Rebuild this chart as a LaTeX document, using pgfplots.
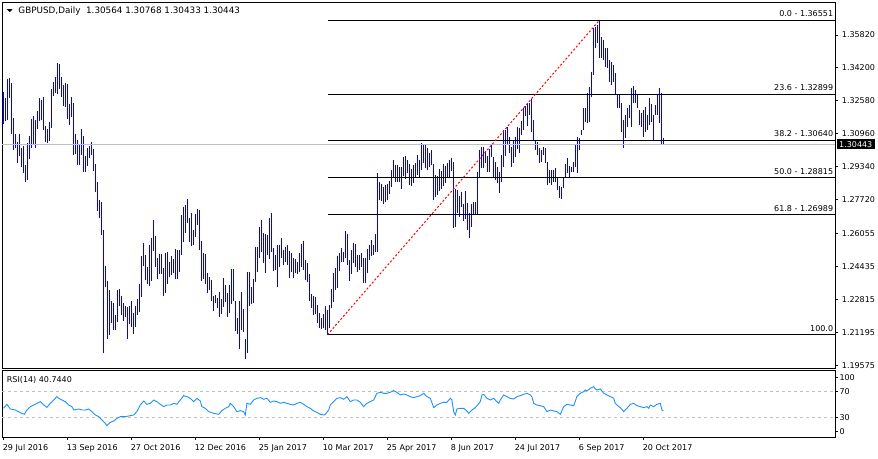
\documentclass[border=0pt]{standalone}
\usepackage{fontspec}
\setmainfont{DejaVu Sans}
\usepackage{pgfplots}
\pgfplotsset{compat=1.18}
\usepackage{pgfplotstable}

\definecolor{barblue}{RGB}{0,0,255}
\definecolor{rsiblue}{RGB}{30,144,255}
\definecolor{silvergray}{RGB}{192,192,192}
\newcommand{\sz}{\fontsize{8bp}{9.6bp}\selectfont}

% RSI(14)
\pgfplotstableread{
i rsi
0 44.5
1.7 50.5
3.4 43.5
5.9 42
8.4 38
10.4 35.5
11.7 42
13.4 47
15.1 49.5
16.7 52
18.4 54.5
20.1 49.5
21.7 46
23.4 52
25.1 57
26.7 62
27.6 59.5
29.2 57
30.9 54.5
32.6 49.5
34.2 47
35.1 42
37.6 43.5
39.2 42
40.9 42
42.6 43.5
44.2 39.5
45.9 34.5
47.6 32
49.2 27
50.9 22
51.7 18.5
53.4 23.5
55.1 25.5
56.7 29.5
58.4 32
60.9 32
63.4 33.5
65.1 34.5
66.7 39.5
68.4 49.5
70.1 55.5
71.7 50.5
73.4 52
75.1 57
76.7 54.5
78.4 50.5
80.1 47
81.7 49.5
83.4 49.5
85.1 52
86.7 50.5
88.4 57
90.1 63.5
91.7 62
93.4 59.5
95.1 54.5
96.7 59.5
98.4 55.5
99.2 47
100.9 44.5
102.6 39.5
105.1 37
107.6 35.5
109.2 41
110.9 44.5
112.6 47
113.4 52
115.1 47
116.7 39.5
118.4 41
120.1 39.5
120.9 34.5
121.7 52
123.4 50.5
125.1 57
126.7 59.5
128.4 60.5
130.1 58
131.7 59.5
133.4 53.5
135.1 55.5
136.7 54.5
138.4 52
140.1 53.5
141.7 52
143.4 50.5
145.1 49.5
146.7 52
148.4 53.5
150.1 50.5
151.7 47
153.4 44.5
155.1 40.5
156.7 38.5
158.4 35.5
160.1 34.5
160.9 35.5
162.6 42
163.4 49.5
165.1 54.5
166.7 59.5
168.4 60.5
170.1 58
171.7 62
173.4 54.5
175.1 57
176.7 57
178.4 53.5
180.1 47
181.7 52
183.4 54.5
185.1 57
186.7 67
188.4 68.5
190.1 67
191.7 67
193.4 68.5
195.1 71
196.7 68.5
198.4 64.5
200.1 66
201.7 64.5
203.4 62
205.1 60.5
206.7 62
208.4 63.5
210.1 67
211.7 62
213.4 59.5
215.1 45.5
216.7 49.5
218.4 52
220.1 53.5
221.7 53.5
223.4 59.5
224.2 57
225.1 39.5
225.9 34.5
226.7 43.5
228.4 44.5
230.1 44.5
231.7 40.5
232.6 37
234.2 42
235.9 45.5
238.4 54.5
239.2 64.5
240.1 65.5
241.7 59.5
243.4 57
245.1 59.5
246.7 54.5
247.6 52
248.4 57
250.1 64.5
251.7 62
253.4 59.5
255.1 58.5
256.7 62
258.4 63.5
260.1 65.5
261.7 67
263.4 64.5
264.2 62
265.1 52
266.7 49.5
268.4 48.5
270.1 47
271.7 39.5
273.4 42
275.1 40.5
276.7 39.5
278.4 35.5
280.1 47
281.7 50.5
283.4 49.5
285.1 48.5
286.7 62
288.4 67
290.1 69.5
290.9 72
291.7 70.5
293.4 74.5
295.1 77
295.9 73.5
296.7 72
298.4 73.5
299.2 70.5
300.1 67
301.7 64.5
303.4 62
305.1 59.5
305.9 52
306.7 49.5
308.4 45.5
310.1 39.5
311.7 44.5
313.4 50.5
315.1 52
316.7 48.5
318.4 47
320.1 45.5
321.7 47
322.6 44.5
323.4 49.5
325.1 47
326.7 50.5
328.4 52
329.2 42
330 40.7
}\rsidata

% daily high and low of each bar
\pgfplotstableread{
i hi lo
0 1.3303 1.3144
1 1.3274 1.3161
2 1.3366 1.3164
3 1.3372 1.3274
4 1.3348 1.3095
5 1.3175 1.3018
6 1.3095 1.3026
7 1.3054 1.2954
8 1.3095 1.2988
9 1.3028 1.2934
10 1.3038 1.2901
11 1.2942 1.2860
12 1.3052 1.2869
13 1.3087 1.2974
14 1.3169 1.3026
15 1.3185 1.3044
16 1.3164 1.3026
17 1.3210 1.3121
18 1.3274 1.3161
19 1.3262 1.3164
20 1.3275 1.3116
21 1.3134 1.3054
22 1.3121 1.3052
23 1.3156 1.3062
24 1.3316 1.3123
25 1.3352 1.3284
26 1.3375 1.3297
27 1.3444 1.3293
28 1.3439 1.3315
29 1.3377 1.3279
30 1.3338 1.3233
31 1.3348 1.3226
32 1.3341 1.3167
33 1.3244 1.3138
34 1.3277 1.3177
35 1.3248 1.2993
36 1.3095 1.2995
37 1.3067 1.2944
38 1.3046 1.2944
39 1.3120 1.2992
40 1.3085 1.2910
41 1.2988 1.2910
42 1.3028 1.2936
43 1.3034 1.2975
44 1.3056 1.2992
45 1.3021 1.2915
46 1.2947 1.2811
47 1.2860 1.2718
48 1.2770 1.2683
49 1.2760 1.2600
50 1.2624 1.2019
51 1.2447 1.2344
52 1.2373 1.2088
53 1.2327 1.2104
54 1.2275 1.2167
55 1.2265 1.2132
56 1.2206 1.2131
57 1.2327 1.2172
58 1.2332 1.2250
59 1.2298 1.2204
60 1.2265 1.2175
61 1.2250 1.2193
62 1.2244 1.2085
63 1.2250 1.2159
64 1.2273 1.2147
65 1.2214 1.2113
66 1.2249 1.2144
67 1.2283 1.2205
68 1.2357 1.2221
69 1.2495 1.2295
70 1.2560 1.2446
71 1.2500 1.2377
72 1.2439 1.2357
73 1.2549 1.2349
74 1.2585 1.2373
75 1.2672 1.2519
76 1.2593 1.2442
77 1.2487 1.2380
78 1.2505 1.2408
79 1.2505 1.2408
80 1.2434 1.2298
81 1.2511 1.2311
82 1.2514 1.2359
83 1.2465 1.2390
84 1.2495 1.2401
85 1.2480 1.2413
86 1.2531 1.2382
87 1.2524 1.2383
88 1.2524 1.2418
89 1.2697 1.2501
90 1.2738 1.2564
91 1.2746 1.2610
92 1.2775 1.2656
93 1.2682 1.2564
94 1.2706 1.2546
95 1.2623 1.2547
96 1.2701 1.2590
97 1.2726 1.2649
98 1.2721 1.2524
99 1.2569 1.2373
100 1.2511 1.2380
101 1.2505 1.2357
102 1.2413 1.2311
103 1.2390 1.2328
104 1.2377 1.2275
105 1.2300 1.2226
106 1.2303 1.2262
107 1.2290 1.2241
108 1.2319 1.2196
109 1.2282 1.2209
110 1.2385 1.2246
111 1.2352 1.2270
112 1.2314 1.2196
113 1.2352 1.2213
114 1.2431 1.2259
115 1.2431 1.2275
116 1.2275 1.2127
117 1.2191 1.2109
118 1.2275 1.2039
119 1.2318 1.2131
120 1.2234 1.2123
121 1.2086 1.1986
122 1.2418 1.2016
123 1.2418 1.2250
124 1.2344 1.2259
125 1.2382 1.2265
126 1.2541 1.2369
127 1.2541 1.2418
128 1.2639 1.2483
129 1.2672 1.2516
130 1.2610 1.2462
131 1.2603 1.2410
132 1.2600 1.2500
133 1.2683 1.2480
134 1.2708 1.2516
135 1.2533 1.2421
136 1.2500 1.2426
137 1.2549 1.2344
138 1.2549 1.2442
139 1.2585 1.2483
140 1.2524 1.2451
141 1.2541 1.2467
142 1.2549 1.2451
143 1.2519 1.2385
144 1.2508 1.2418
145 1.2487 1.2385
146 1.2480 1.2410
147 1.2467 1.2405
148 1.2508 1.2414
149 1.2552 1.2442
150 1.2569 1.2426
151 1.2475 1.2377
152 1.2459 1.2369
153 1.2405 1.2275
154 1.2308 1.2237
155 1.2296 1.2205
156 1.2295 1.2209
157 1.2254 1.2164
158 1.2216 1.2139
159 1.2191 1.2134
160 1.2208 1.2139
161 1.2249 1.2131
162 1.2229 1.21076
163 1.2254 1.2139
164 1.2332 1.2237
165 1.2410 1.2270
166 1.2434 1.2328
167 1.2496 1.2336
168 1.2508 1.2421
169 1.2533 1.2464
170 1.2516 1.2467
171 1.2618 1.2487
172 1.2603 1.2451
173 1.2475 1.2373
174 1.2524 1.2405
175 1.2557 1.2459
176 1.2552 1.2439
177 1.2500 1.2414
178 1.2500 1.2426
179 1.2508 1.2442
180 1.2487 1.2360
181 1.2487 1.2364
182 1.2529 1.2410
183 1.2549 1.2475
184 1.2574 1.2497
185 1.2549 1.2500
186 1.2601 1.2513
187 1.2902 1.2516
188 1.2861 1.2770
189 1.2849 1.2767
190 1.2836 1.2751
191 1.2844 1.2762
192 1.2847 1.2770
193 1.2865 1.2800
194 1.2918 1.2836
195 1.2967 1.2877
196 1.2943 1.2861
197 1.2943 1.2861
198 1.2934 1.2861
199 1.2934 1.2824
200 1.2982 1.2888
201 1.2987 1.2872
202 1.2967 1.2905
203 1.2947 1.2844
204 1.2921 1.2841
205 1.2943 1.2856
206 1.2954 1.2882
207 1.2992 1.2893
208 1.2967 1.2882
209 1.3049 1.2918
210 1.3046 1.2954
211 1.3041 1.2926
212 1.3025 1.2918
213 1.3000 1.2931
214 1.3016 1.2943
215 1.2947 1.2770
216 1.2893 1.2783
217 1.2888 1.2795
218 1.2923 1.2815
219 1.2915 1.2823
220 1.2947 1.2839
221 1.2938 1.2856
222 1.2951 1.2882
223 1.2967 1.2885
224 1.2979 1.2915
225 1.2959 1.2634
226 1.2823 1.2636
227 1.2820 1.2705
228 1.2790 1.2685
229 1.2811 1.2738
230 1.2751 1.2669
231 1.2815 1.2677
232 1.2757 1.2623
233 1.2708 1.2585
234 1.2751 1.2636
235 1.2762 1.2700
236 1.2762 1.2701
237 1.2910 1.2697
238 1.3016 1.2882
239 1.3033 1.2926
240 1.3029 1.2926
241 1.3013 1.2954
242 1.2988 1.2910
243 1.3020 1.2910
244 1.3041 1.2984
245 1.2984 1.2882
246 1.2959 1.2869
247 1.2931 1.2852
248 1.2910 1.2806
249 1.2992 1.2861
250 1.3115 1.2931
251 1.3115 1.2987
252 1.3128 1.3041
253 1.3082 1.3000
254 1.3033 1.2931
255 1.3066 1.2954
256 1.3079 1.2984
257 1.3128 1.3020
258 1.3123 1.3000
259 1.3159 1.3090
260 1.3221 1.3115
261 1.3233 1.3185
262 1.3249 1.3134
263 1.3249 1.3189
264 1.3267 1.3107
265 1.3164 1.3066
266 1.3066 1.3016
267 1.3057 1.2992
268 1.3028 1.2951
269 1.3016 1.2959
270 1.3033 1.2992
271 1.3025 1.2951
272 1.2959 1.2844
273 1.2918 1.2852
274 1.2918 1.2844
275 1.2918 1.2861
276 1.2926 1.2861
277 1.2877 1.2820
278 1.2839 1.2782
279 1.2836 1.2774
280 1.2885 1.2828
281 1.2946 1.2877
282 1.2975 1.2902
283 1.2939 1.2877
284 1.2934 1.2910
285 1.2959 1.2910
286 1.3041 1.2934
287 1.3082 1.2902
288 1.3077 1.3016
289 1.3115 1.3090
290 1.3221 1.3115
291 1.3221 1.3156
292 1.3295 1.3148
293 1.3328 1.3156
294 1.3402 1.3279
295 1.3615 1.3385
296 1.3623 1.3517
297 1.3631 1.3541
298 1.36551 1.3467
299 1.3574 1.3467
300 1.3558 1.3459
301 1.3517 1.3426
302 1.3517 1.3418
303 1.3459 1.3353
304 1.3451 1.3336
305 1.3435 1.3353
306 1.3394 1.3287
307 1.3287 1.3225
308 1.3287 1.3221
309 1.3246 1.3107
310 1.3164 1.3025
311 1.3189 1.3074
312 1.3221 1.3131
313 1.3238 1.3172
314 1.3320 1.3131
315 1.3333 1.3246
316 1.3312 1.3246
317 1.3287 1.3221
318 1.3213 1.3139
319 1.3197 1.3131
320 1.3213 1.3082
321 1.3230 1.3107
322 1.3189 1.3115
323 1.3274 1.3139
324 1.3241 1.3156
325 1.3189 1.3066
326 1.3238 1.3189
327 1.3287 1.3189
328 1.3320 1.3148
329 1.3295 1.3041
330 1.30768 1.30433
}\bars

\pgfplotsset{every tick label/.append style={font=\sz, text=black}}

\begin{document}
\begin{tikzpicture}
\useasboundingbox (0,0) rectangle (878bp,-459bp);

% ---------------- price panel ----------------
\begin{axis}[
  at={(2bp,-2.7bp)}, anchor=north west,
  scale only axis, width=833bp, height=365.6bp,
  xmin=-0.75, xmax=415.75,
  ymin=1.19423, ymax=1.37410,
  axis line style={black, line width=1bp},
  xtick=\empty,
  ytick={1.19575,1.21195,1.22815,1.24435,1.26055,1.27720,1.29340,1.30960,1.32580,1.34200,1.35820},
  yticklabels={1.19575,1.21195,1.22815,1.24435,1.26055,1.27720,1.29340,1.30960,1.32580,1.34200,1.35820},
  ytick pos=right, yticklabel pos=right,
  tick align=outside, major tick length=3bp,
  tick style={black, line width=1bp},
  yticklabel style={anchor=west, inner sep=0pt, xshift=3.7bp},
  clip=false,
]
% daily high-low bars: a thin filled column from each low to its high
\pgfplotsinvokeforeach{0,...,330}{
  \pgfplotstablegetelem{#1}{hi}\of{\bars}\let\hival=\pgfplotsretval
  \pgfplotstablegetelem{#1}{lo}\of{\bars}\let\loval=\pgfplotsretval
  \pgfmathsetmacro\xl{#1-0.25}
  \pgfmathsetmacro\xr{#1+0.25}
  \edef\temp{\noexpand\addplot [fill=barblue, draw=none, forget plot]
    coordinates {(\xl,\loval) (\xr,\loval) (\xr,\hival) (\xl,\hival)} -- cycle;}
  \temp
}
% bid line
\addplot [silvergray, line width=1bp] coordinates {(-0.75,1.30443) (415.75,1.30443)};
% fibonacci levels
\addplot [black, line width=1bp] coordinates {(162,1.36551) (415.75,1.36551)};
\addplot [black, line width=1bp] coordinates {(162,1.32899) (415.75,1.32899)};
\addplot [black, line width=1bp] coordinates {(162,1.30640) (415.75,1.30640)};
\addplot [black, line width=1bp] coordinates {(162,1.28815) (415.75,1.28815)};
\addplot [black, line width=1bp] coordinates {(162,1.26989) (415.75,1.26989)};
\addplot [black, line width=1bp] coordinates {(162,1.21076) (415.75,1.21076)};
\addplot [red, line width=1bp, dash pattern=on 2bp off 2bp] coordinates {(162,1.21076) (298,1.36551)};
\begin{scope}[every node/.style={font=\sz, anchor=base east, inner sep=0pt, xshift=-1.7bp, yshift=3.4bp}]
\node at (axis cs:415.75,1.36551) {0.0 - 1.36551};
\node at (axis cs:415.75,1.32899) {23.6 - 1.32899};
\node at (axis cs:415.75,1.30640) {38.2 - 1.30640};
\node at (axis cs:415.75,1.28815) {50.0 - 1.28815};
\node at (axis cs:415.75,1.26989) {61.8 - 1.26989};
\node at (axis cs:415.75,1.21076) {100.0};
\end{scope}
\node [font=\sz, fill=black, text=white, anchor=west, inner xsep=2.5bp, inner ysep=1.8bp]
  at (axis cs:415.75,1.30443) [xshift=1.5bp] {1.30443};
\end{axis}

% ---------------- RSI panel ----------------
\begin{axis}[
  at={(2bp,-370.7bp)}, anchor=north west,
  scale only axis, width=833bp, height=67bp,
  xmin=-0.75, xmax=415.75,
  ymin=0.45, ymax=100.9,
  axis line style={black, line width=1bp},
  xtick={0,32,64,96,128,160,192,224,256,288,320},
  xticklabels={29 Jul 2016,13 Sep 2016,27 Oct 2016,12 Dec 2016,25 Jan 2017,10 Mar 2017,25 Apr 2017,8 Jun 2017,24 Jul 2017,6 Sep 2017,20 Oct 2017},
  xtick pos=bottom, xticklabel pos=bottom,
  ytick={9.5,30,70,91}, yticklabels={0,30,70,100},
  ytick pos=right, yticklabel pos=right,
  tick align=outside, major tick length=2.5bp,
  tick style={black, line width=1bp},
  yticklabel style={anchor=west, inner sep=0pt, xshift=1.8bp},
  xticklabel style={anchor=base west, inner sep=0pt, xshift=-0.8bp, yshift=-9.8bp},
  clip=false,
]
\addplot [silvergray, line width=1bp, dash pattern=on 3bp off 3bp] coordinates {(-0.75,70) (415.75,70)};
\addplot [silvergray, line width=1bp, dash pattern=on 3bp off 3bp] coordinates {(-0.75,30) (415.75,30)};
\addplot [rsiblue, line width=0.9bp] table [x=i, y=rsi] {\rsidata};
\end{axis}

% headers
\fill (6.7bp,-9.0bp) -- (12.7bp,-9.0bp) -- (9.7bp,-12.2bp) -- cycle;
\node [font=\fontsize{8.8bp}{10.5bp}\selectfont, anchor=base west, inner sep=0pt] at (18.3bp,-13.6bp)
  {GBPUSD,Daily\ \ 1.30564 1.30768 1.30433 1.30443};
\node [font=\sz, anchor=base west, inner sep=0pt] at (6.7bp,-382.5bp) {RSI(14) 40.7440};
\end{tikzpicture}
\end{document}
